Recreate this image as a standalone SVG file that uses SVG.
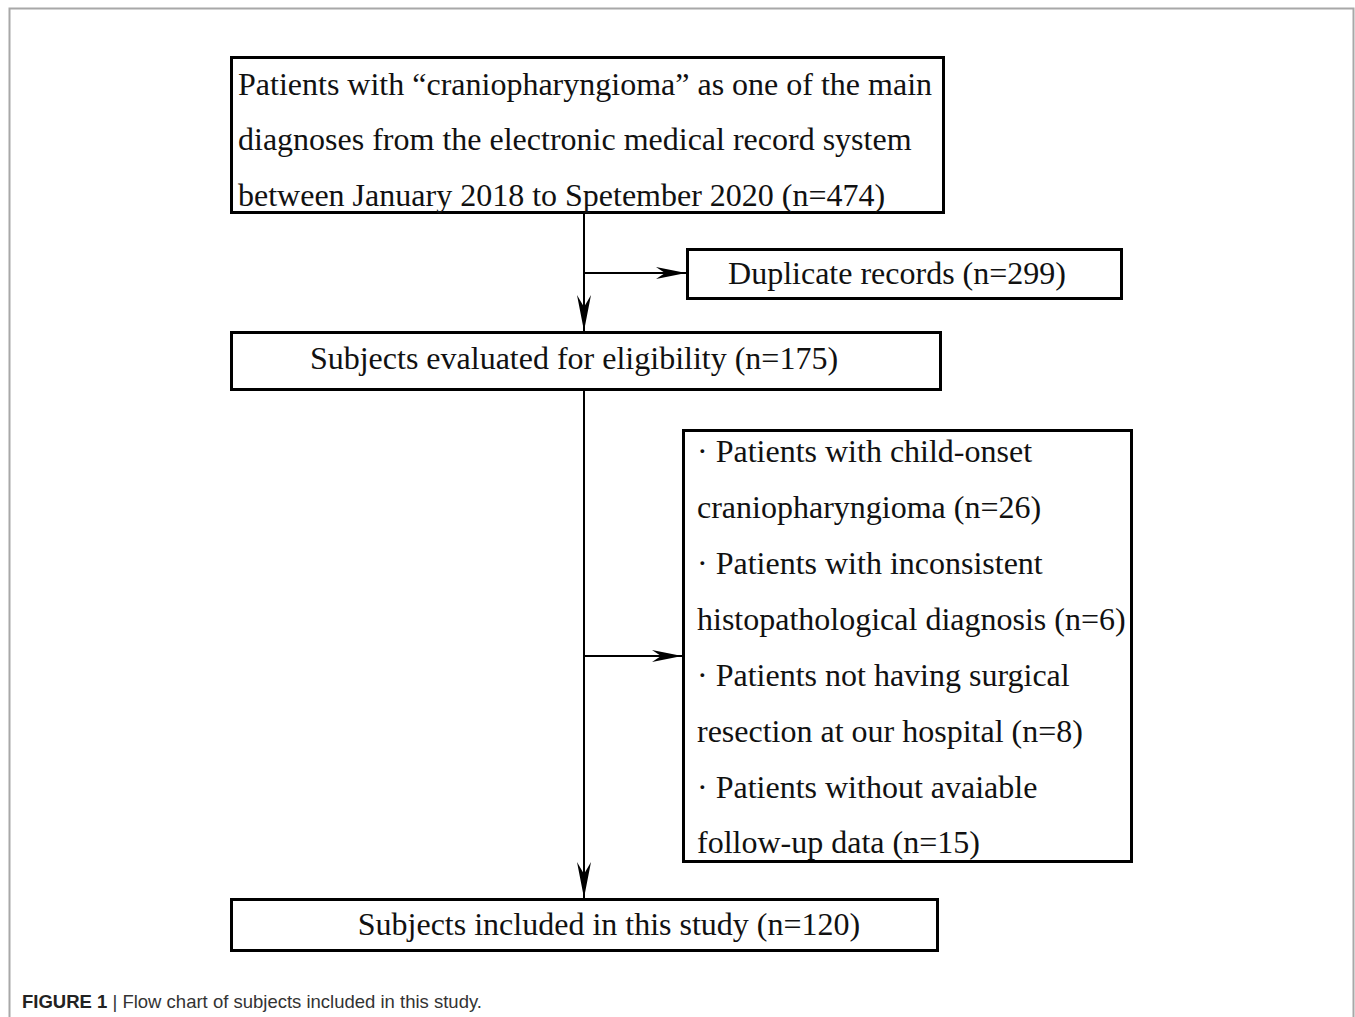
<svg xmlns="http://www.w3.org/2000/svg" width="1355" height="1017" viewBox="0 0 1355 1017">
<style>
.box{fill:#fff;stroke:#000;stroke-width:3}
.t{font-family:"Liberation Serif","Times New Roman",serif;font-size:32px;fill:#111}
.c{stroke:#000;stroke-width:2;fill:none}
.cap{font-family:"Liberation Sans",Arial,sans-serif;font-size:18.5px;fill:#333}
</style>
<defs>
<marker id="ah" viewBox="0 0 30 12" refX="30" refY="6" markerWidth="30" markerHeight="12" markerUnits="userSpaceOnUse" orient="auto">
<path d="M0,0 L30,6 L0,12 L9,6 Z" fill="#000"/>
</marker>
<marker id="av" viewBox="0 0 36 14" refX="36" refY="7" markerWidth="36" markerHeight="14" markerUnits="userSpaceOnUse" orient="auto">
<path d="M0,0 L36,7 L0,14 L12,7 Z" fill="#000"/>
</marker>
</defs>
<rect x="0" y="0" width="1355" height="1017" fill="#fff"/>
<path d="M9.5,1017 V8.5 H1353.5 V1017" fill="none" stroke="#a8a8a8" stroke-width="2"/>
<g id="connectors">
<line class="c" x1="584" y1="213" x2="584" y2="331" marker-end="url(#av)"/>
<line class="c" x1="584" y1="273" x2="686" y2="273" marker-end="url(#ah)"/>
<line class="c" x1="584" y1="390" x2="584" y2="898" marker-end="url(#av)"/>
<line class="c" x1="584" y1="656" x2="682" y2="656" marker-end="url(#ah)"/>
</g>
<g id="n1">
<rect class="box" x="231.5" y="57.5" width="712" height="155"/>
<text class="t" x="238" y="95">Patients with “craniopharyngioma” as one of the main</text>
<text class="t" x="238" y="150">diagnoses from the electronic medical record system</text>
<text class="t" x="238" y="206">between January 2018 to Spetember 2020 (n=474)</text>
</g>
<g id="n2">
<rect class="box" x="687.5" y="249.5" width="434" height="49"/>
<text class="t" x="897" y="284" text-anchor="middle">Duplicate records (n=299)</text>
</g>
<g id="n3">
<rect class="box" x="231.5" y="332.5" width="709" height="57"/>
<text class="t" x="574" y="369" text-anchor="middle">Subjects evaluated for eligibility (n=175)</text>
</g>
<g id="n4">
<rect class="box" x="683.5" y="430.5" width="448" height="431"/>
<text class="t" x="697" y="462">· Patients with child-onset</text>
<text class="t" x="697" y="518">craniopharyngioma (n=26)</text>
<text class="t" x="697" y="574">· Patients with inconsistent</text>
<text class="t" x="697" y="630">histopathological diagnosis (n=6)</text>
<text class="t" x="697" y="686">· Patients not having surgical</text>
<text class="t" x="697" y="742">resection at our hospital (n=8)</text>
<text class="t" x="697" y="798">· Patients without avaiable</text>
<text class="t" x="697" y="853">follow-up data (n=15)</text>
</g>
<g id="n5">
<rect class="box" x="231.5" y="899.5" width="706" height="51"/>
<text class="t" x="609" y="935" text-anchor="middle">Subjects included in this study (n=120)</text>
</g>
<text class="cap" x="22" y="1008"><tspan font-weight="bold" fill="#222">FIGURE 1</tspan> | Flow chart of subjects included in this study.</text>
</svg>
